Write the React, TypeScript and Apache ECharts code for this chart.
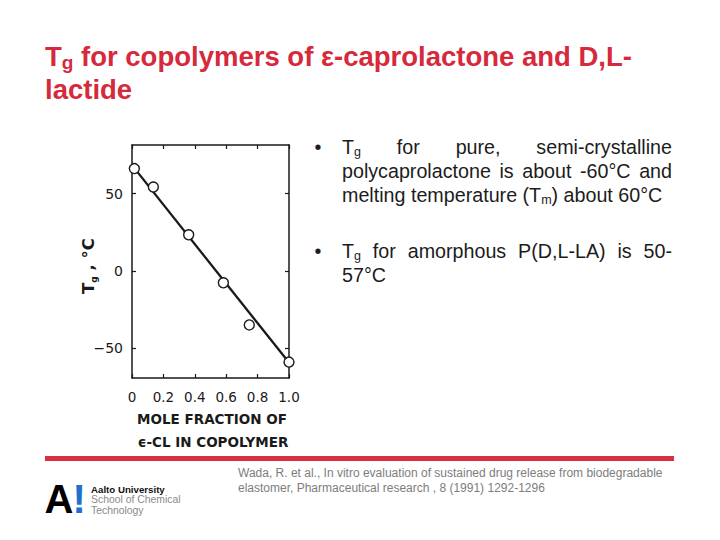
import React, { useEffect, useRef } from "react";
import * as echarts from "echarts";

// ---- data ----
const molFraction = [0.015, 0.136, 0.361, 0.582, 0.747, 1.0];
const tgValues = [66.2, 54.3, 23.3, -7.8, -35.1, -59.2];
const fitX = [0.015, 1.0];
const fitY = [66.5, -59.5];
const xTickLabels = ["0", "0.2", "0.4", "0.6", "0.8", "1.0"];
const yTickValues = [-50, 0, 50];
const xNameLines = ["MOLE FRACTION OF", "\u03F5-CL IN COPOLYMER"];
const citationLines = [
  "Wada, R. et al., In vitro evaluation of sustained drug release from biodegradable",
  "elastomer, Pharmaceutical research , 8 (1991) 1292-1296",
];
const logoLines = ["Aalto University", "School of Chemical", "Technology"];

type Seg = [string, boolean];
type Word = Seg[];
// bullet 1
const b1Line1: Word[] = [[["T", false], ["g", true]], [["for", false]], [["pure,", false]], [["semi-crystalline", false]]];
const b1Line2: Word[] = [[["polycaprolactone", false]], [["is", false]], [["about", false]], [["-60\u00B0C", false]], [["and", false]]];
const b1Line3: Seg[] = [["melting temperature (T", false], ["m", true], [") about 60\u00B0C", false]];
// bullet 2
const b2Line1: Word[] = [[["T", false], ["g", true]], [["for", false]], [["amorphous", false]], [["P(D,L-LA)", false]], [["is", false]], [["50-", false]]];
const b2Line2: Seg[] = [["57\u00B0C", false]];

const LS = '"Liberation Sans", Arial, sans-serif';
const DJ = '"DejaVu Sans", sans-serif';
const RED = "#d62a3c";
const BODY = "#1c1c1c";
const FIG = "#1a1a1a";

const BF = 19.7; // bullet font size
const BS = 12.5; // bullet subscript size

function measure(ctx: CanvasRenderingContext2D, text: string, size: number, weight = "normal", family = LS) {
  ctx.font = `${weight} ${size}px ${family}`;
  return ctx.measureText(text).width;
}

function richOf(segs: Seg[]) {
  return segs.map(([t, s]) => `{${s ? "s" : "n"}|${t}}`).join("");
}

const bulletRich = {
  n: { fontSize: BF, fontFamily: LS, fill: BODY, lineHeight: 22 },
  s: { fontSize: BS, fontFamily: LS, fill: BODY, lineHeight: 10, verticalAlign: "bottom" },
};

function textEl(x: number, y: number, text: string, extra: any = {}, style: any = {}) {
  return {
    type: "text",
    x,
    y,
    silent: true,
    ...extra,
    style: {
      text,
      align: "left",
      textAlign: "left",
      verticalAlign: "middle",
      textVerticalAlign: "middle",
      ...style,
    },
  };
}

export default function App() {
  const ref = useRef<HTMLDivElement>(null);

  useEffect(() => {
    if (!ref.current) return;
    const chart = echarts.init(ref.current, undefined, { renderer: "svg" });
    const ctx = document.createElement("canvas").getContext("2d")!;

    const segWidth = (segs: Seg[]) =>
      segs.reduce((acc, [t, s]) => acc + measure(ctx, t, s ? BS : BF), 0);

    const xL = 342;
    const xR = 672;
    const justified = (words: Word[], y: number) => {
      const widths = words.map(segWidth);
      const total = widths.reduce((a, b) => a + b, 0);
      const gap = (xR - xL - total) / (words.length - 1);
      let x = xL;
      return words.map((w, i) => {
        const el = textEl(x, y, richOf(w), {}, { rich: bulletRich });
        x += widths[i] + gap;
        return el;
      });
    };
    const plain = (segs: Seg[], y: number) => textEl(xL, y, richOf(segs), {}, { rich: bulletRich });

    const bulletDot = (y: number) =>
      textEl(318, y, "\u2022", {}, { font: `${BF}px ${LS}`, fill: BODY, align: "center", textAlign: "center" });

    const graphics: any[] = [
      // title
      textEl(45, 56, "{n|T}{s|g}{n| for copolymers of \u03B5-caprolactone and D,L-}", {}, {
        rich: {
          n: { fontSize: 27.5, fontWeight: "bold", fontFamily: LS, fill: RED, lineHeight: 32 },
          s: { fontSize: 19, fontWeight: "bold", fontFamily: LS, fill: RED, lineHeight: 14, verticalAlign: "bottom" },
        },
      }),
      textEl(45, 89, "lactide", {}, { font: `bold 27.5px ${LS}`, fill: RED }),
      // bullets
      bulletDot(147),
      ...justified(b1Line1, 147),
      ...justified(b1Line2, 171),
      plain(b1Line3, 195),
      bulletDot(251),
      ...justified(b2Line1, 251),
      plain(b2Line2, 275),
      // y axis name (rotated)
      textEl(88, 266, "{n|T}{s|g}{n| , \u00B0C}", { rotation: Math.PI / 2 }, {
        align: "center",
        textAlign: "center",
        rich: {
          n: { fontSize: 16.5, fontWeight: "bold", fontFamily: DJ, fill: FIG, lineHeight: 20 },
          s: { fontSize: 9, fontWeight: "bold", fontFamily: DJ, fill: FIG, lineHeight: 9, verticalAlign: "bottom" },
        },
      }),
      // x axis name
      textEl(212, 419, xNameLines[0], {}, { font: `bold 13.5px ${DJ}`, fill: FIG, align: "center", textAlign: "center" }),
      textEl(213, 442, xNameLines[1], {}, { font: `bold 13.5px ${DJ}`, fill: FIG, align: "center", textAlign: "center" }),
      // red rule
      { type: "rect", silent: true, shape: { x: 45, y: 456, width: 629, height: 5 }, style: { fill: "#d9303f" } },
      // logo
      textEl(44.5, 498.5, "A", {}, { font: `bold 40px ${LS}`, fill: "#000" }),
      textEl(72.5, 498.5, "!", {}, { font: `bold 40px ${LS}`, fill: "#1e6fcf" }),
      textEl(91, 489, logoLines[0], {}, { font: `bold 9.7px ${LS}`, fill: "#111" }),
      textEl(91, 499.5, logoLines[1], {}, { font: `10.4px ${LS}`, fill: "#8a8a8a" }),
      textEl(91, 510, logoLines[2], {}, { font: `10.4px ${LS}`, fill: "#8a8a8a" }),
      // citation
      textEl(238, 473, citationLines[0], {}, { font: `12px ${LS}`, fill: "#7d7d7d" }),
      textEl(238, 488, citationLines[1], {}, { font: `12px ${LS}`, fill: "#7d7d7d" }),
    ];

    const axisLine = { show: true, onZero: false, lineStyle: { color: FIG, width: 1.5 } };
    const tick = { show: true, inside: true, length: 4, lineStyle: { color: FIG, width: 1.2 } };
    const option: any = {
      animation: false,
      backgroundColor: "#ffffff",
      grid: { left: 132, top: 145, width: 157, height: 233, containLabel: false },
      xAxis: [
        {
          type: "value",
          position: "bottom",
          min: 0,
          max: 1,
          interval: 0.2,
          axisLine,
          axisTick: tick,
          axisLabel: {
            margin: 12,
            color: FIG,
            fontFamily: DJ,
            fontSize: 13.5,
            formatter: (v: number) => xTickLabels[Math.round(v * 5)] ?? "",
          },
          splitLine: { show: false },
        },
        {
          type: "value",
          position: "top",
          min: 0,
          max: 1,
          interval: 0.2,
          axisLine,
          axisTick: tick,
          axisLabel: { show: false },
          splitLine: { show: false },
        },
      ],
      yAxis: [
        {
          type: "value",
          position: "left",
          min: -69.5,
          max: 81.5,
          axisLine,
          axisTick: { ...tick, customValues: yTickValues },
          axisLabel: {
            margin: 9,
            color: FIG,
            fontFamily: DJ,
            fontSize: 14,
            customValues: yTickValues,
            formatter: (v: number) => (v < 0 ? "\u2212" + Math.abs(v) : String(v)),
          },
          splitLine: { show: false },
        },
        {
          type: "value",
          position: "right",
          min: -69.5,
          max: 81.5,
          axisLine,
          axisTick: { ...tick, customValues: yTickValues },
          axisLabel: { show: false },
          splitLine: { show: false },
        },
      ],
      series: [
        {
          type: "line",
          xAxisIndex: 0,
          yAxisIndex: 0,
          data: fitX.map((x, i) => [x, fitY[i]]),
          showSymbol: false,
          symbol: "none",
          lineStyle: { color: FIG, width: 2.3 },
          z: 2,
        },
        {
          type: "scatter",
          xAxisIndex: 0,
          yAxisIndex: 0,
          data: molFraction.map((x, i) => [x, tgValues[i]]),
          symbol: "circle",
          symbolSize: 10,
          itemStyle: { color: "#ffffff", borderColor: FIG, borderWidth: 1.4, opacity: 1 },
          z: 3,
        },
      ],
      graphic: { elements: graphics },
    };
    chart.setOption(option);
    return () => chart.dispose();
  }, []);

  return (
    <div
      ref={ref}
      style={{ position: "fixed", left: 0, top: 0, width: 720, height: 540, background: "#fff" }}
    />
  );
}
